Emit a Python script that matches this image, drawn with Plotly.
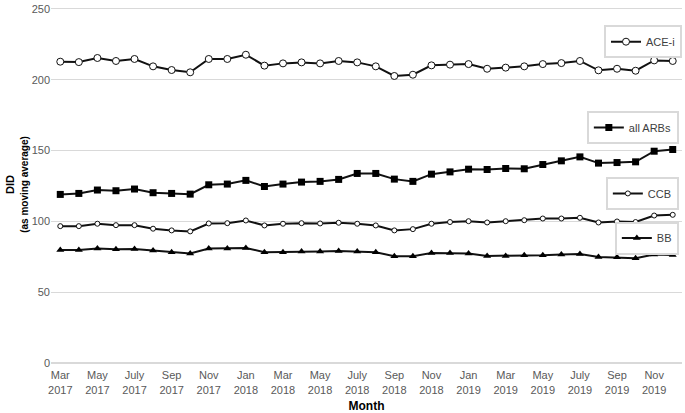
import plotly.graph_objects as go

months = ["Mar<br>2017", "Apr<br>2017", "May<br>2017", "Jun<br>2017", "July<br>2017", "Aug<br>2017",
          "Sep<br>2017", "Oct<br>2017", "Nov<br>2017", "Dec<br>2017", "Jan<br>2018", "Feb<br>2018",
          "Mar<br>2018", "Apr<br>2018", "May<br>2018", "Jun<br>2018", "July<br>2018", "Aug<br>2018",
          "Sep<br>2018", "Oct<br>2018", "Nov<br>2018", "Dec<br>2018", "Jan<br>2019", "Feb<br>2019",
          "Mar<br>2019", "Apr<br>2019", "May<br>2019", "Jun<br>2019", "July<br>2019", "Aug<br>2019",
          "Sep<br>2019", "Oct<br>2019", "Nov<br>2019", "Dec<br>2019"]

ace_i = [212.7, 212.4, 215.3, 213.2, 214.6, 209.4, 206.8, 205.2, 214.6, 214.6, 217.6, 209.9,
         211.5, 212.2, 211.5, 213.2, 212.2, 209.4, 202.6, 203.5, 210.1, 210.6, 211.0, 207.7,
         208.5, 209.4, 211.0, 211.7, 213.2, 206.6, 207.7, 206.3, 213.6, 213.2]
all_arbs = [119.0, 119.7, 122.1, 121.6, 122.8, 120.2, 119.7, 119.2, 125.8, 126.3, 128.9, 124.6,
            126.3, 127.7, 128.2, 129.6, 133.8, 133.8, 129.8, 128.2, 133.3, 134.9, 136.8, 136.6,
            137.3, 137.1, 140.1, 142.7, 145.5, 141.1, 141.5, 142.0, 149.5, 150.7]
ccb = [96.6, 96.6, 98.3, 97.3, 97.3, 94.8, 93.6, 92.9, 98.5, 98.7, 100.6, 97.1,
       98.3, 98.7, 98.5, 99.0, 98.3, 97.1, 93.6, 94.5, 98.3, 99.5, 100.1, 99.2,
       100.1, 100.8, 102.0, 102.0, 102.5, 99.2, 99.9, 99.5, 104.1, 104.6]
bb = [79.8, 79.8, 80.8, 80.3, 80.5, 79.4, 78.2, 77.3, 80.8, 80.8, 81.2, 78.2,
      78.2, 78.7, 78.7, 79.1, 78.7, 78.2, 75.4, 75.4, 77.7, 77.7, 77.3, 75.6,
      75.6, 76.1, 76.1, 76.6, 77.0, 74.9, 74.7, 74.0, 76.6, 76.3]

x = list(range(len(months)))

fig = go.Figure()
fig.add_trace(go.Scatter(x=x, y=ace_i, name="ACE-i", mode="lines+markers", legend="legend",
                         line=dict(color="#111111", width=2),
                         marker=dict(symbol="circle", size=7, color="white",
                                     line=dict(color="#111111", width=1))))
fig.add_trace(go.Scatter(x=x, y=all_arbs, name="all ARBs", mode="lines+markers", legend="legend2",
                         line=dict(color="#111111", width=2),
                         marker=dict(symbol="square", size=7, color="#000000")))
fig.add_trace(go.Scatter(x=x, y=ccb, name="CCB", mode="lines+markers", legend="legend3",
                         line=dict(color="#111111", width=2),
                         marker=dict(symbol="circle", size=5, color="white",
                                     line=dict(color="#111111", width=1))))
fig.add_trace(go.Scatter(x=x, y=bb, name="BB", mode="lines+markers", legend="legend4",
                         line=dict(color="#111111", width=2),
                         marker=dict(symbol="triangle-up", size=7, color="#000000")))

leg = dict(bgcolor="white", bordercolor="#d9d9d9", borderwidth=2,
           font=dict(family="Arial, Liberation Sans", size=11, color="#404040"),
           xanchor="right", yanchor="middle")
fig.update_layout(
    width=685, height=413,
    margin=dict(l=51, r=3, t=3, b=50),
    plot_bgcolor="white", paper_bgcolor="white",
    font=dict(family="Arial, Liberation Sans", color="#595959", size=11),
    showlegend=True,
    legend=dict(leg, x=1.0, y=0.90),
    legend2=dict(leg, x=0.995, y=0.66),
    legend3=dict(leg, x=0.995, y=0.475),
    legend4=dict(leg, x=0.995, y=0.35),
)
fig.update_xaxes(range=[-0.5, len(months) - 0.5], tickvals=x[::2], ticktext=months[::2],
                 showgrid=False, zeroline=False, showline=False, automargin=False,
                 ticks="outside", ticklen=2, tickcolor="rgba(0,0,0,0)",
                 tickfont=dict(size=11, color="#595959"),
                 title=dict(text="<b>Month</b>", font=dict(size=12, color="#000000"), standoff=8))
fig.update_yaxes(range=[0, 252], tickvals=[0, 50, 100, 150, 200, 250],
                 showgrid=True, gridcolor="#d9d9d9", gridwidth=1, ticklabeloverflow="allow",
                 zeroline=True, zerolinecolor="#d9d9d9", showline=False, ticks="",
                 tickfont=dict(size=11, color="#595959"),
                 title=dict(text="<b>DID</b><br><b><span style='font-size:10px'>(as moving average)</span></b>",
                            font=dict(size=11, color="#000000"), standoff=0))

fig.write_html("out.html", config={"displayModeBar": False},
               post_script="document.body.style.margin='0px';")
